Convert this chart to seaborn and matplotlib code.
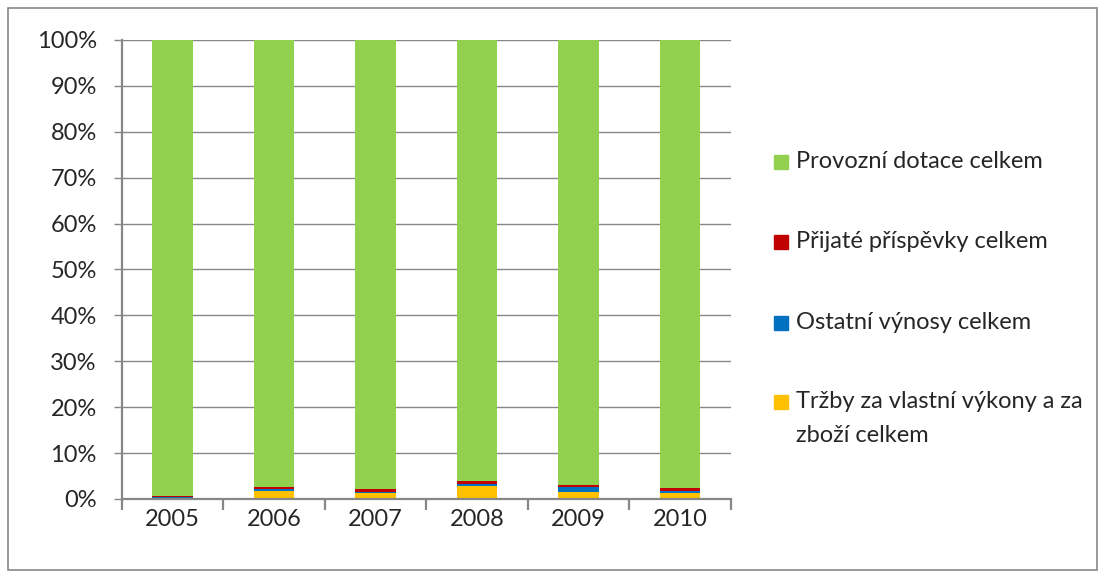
import numpy as np
import pandas as pd
import matplotlib
matplotlib.use("Agg")
import matplotlib.pyplot as plt
import seaborn as sns
from matplotlib.patches import Rectangle

# ---------------------------------------------------------
# Data (shares of total revenue, %)
# ---------------------------------------------------------
years = ["2005", "2006", "2007", "2008", "2009", "2010"]
trzby = [0.3, 1.7, 1.2, 2.9, 1.5, 1.3]
ostatni = [0.15, 0.4, 0.4, 0.4, 1.2, 0.5]
prispevky = [0.25, 0.5, 0.5, 0.7, 0.35, 0.65]
dotace = [99.3, 97.4, 97.9, 96.0, 96.95, 97.55]

series_names = [
    "Tržby za vlastní výkony a za\nzboží celkem",
    "Ostatní výnosy celkem",
    "Přijaté příspěvky celkem",
    "Provozní dotace celkem",
]
series_values = [trzby, ostatni, prispevky, dotace]
colors = ["#FFC000", "#0070C0", "#C00000", "#92D050"]

sns.set_style("white")
plt.rcParams["font.family"] = ["Lato", "DejaVu Sans"]
grid_col = "#878787"
fs = 17

fig = plt.figure(figsize=(11.05, 5.78), dpi=100)
ax = fig.add_axes([0.1101, 0.1367, 0.5514, 0.7941])

df = pd.DataFrame({"year": years})
bottom = np.zeros(len(years))
for name, vals, col in zip(series_names, series_values, colors):
    df["val"] = vals
    sns.barplot(data=df, x="year", y="val", color=col, width=0.4,
                bottom=bottom, ax=ax, saturation=1, linewidth=0)
    bottom = bottom + np.array(vals)

ax.set_ylim(0, 100)
ax.set_xlim(-0.5, len(years) - 0.5)
ax.set_yticks(range(0, 101, 10))
ax.set_yticklabels([f"{v}%" for v in range(0, 101, 10)])
ax.set_xlabel("")
ax.set_ylabel("")

ax.yaxis.grid(True, color=grid_col, linewidth=1.0)
ax.set_axisbelow(True)
for s in ["top", "right"]:
    ax.spines[s].set_visible(False)
for s in ["left", "bottom"]:
    ax.spines[s].set_color(grid_col)
    ax.spines[s].set_linewidth(1.6)

ax.tick_params(axis="y", length=6, color=grid_col, width=1.0, pad=12,
               labelsize=fs, left=True)
ax.set_xticks(np.arange(-0.5, len(years), 1.0), minor=True)
ax.tick_params(axis="x", which="minor", length=8, color=grid_col, width=1.6,
               bottom=True)
ax.tick_params(axis="x", which="major", length=0, pad=7, labelsize=fs)

# legend drawn at figure level, first line aligned with its marker
leg_y = [161.7, 241.7, 322.7, 401.7]
W, H = 1105, 578
for name, col, yy in zip(series_names[::-1], colors[::-1], leg_y):
    fig.patches.append(Rectangle((774 / W, 1 - (yy + 7) / H), 14 / W, 14 / H,
                                 transform=fig.transFigure, color=col))
    lines = name.split("\n")
    for i, ln in enumerate(lines):
        fig.text(796 / W, 1 - (yy + i * 33.5) / H, ln, fontsize=fs,
                 va="center", ha="left")

# outer chart border
fig.patches.append(Rectangle((8 / W, 1 - 570 / H), 1089 / W, 562 / H,
                             transform=fig.transFigure, fill=False,
                             edgecolor=grid_col, linewidth=1.2))

fig.savefig("out.png", dpi=100)
